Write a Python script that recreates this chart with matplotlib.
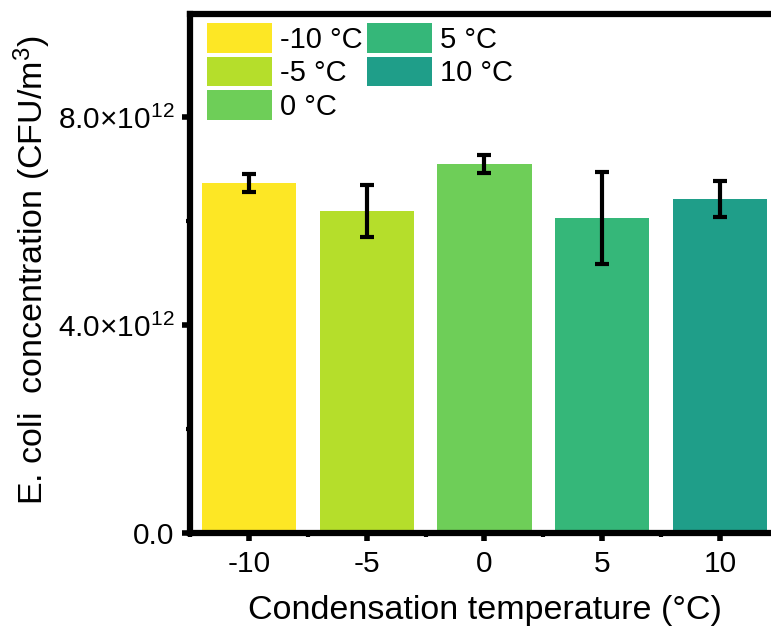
import numpy as np
import matplotlib
matplotlib.use("Agg")
import matplotlib.pyplot as plt
from matplotlib.ticker import FixedLocator

# Data
temps = [-10, -5, 0, 5, 10]
conc = [6.74e12, 6.20e12, 7.11e12, 6.07e12, 6.43e12]
err = [0.18e12, 0.50e12, 0.17e12, 0.89e12, 0.34e12]
labels = ["-10 °C", "-5 °C", "0 °C", "5 °C", "10 °C"]
colors = ["#fde725", "#b5de2b", "#6ece58", "#35b779", "#1f9e89"]
yticks = [0, 4e12, 8e12]
yticklabels = ["0.0", "4.0×10$^{12}$", "8.0×10$^{12}$"]

plt.rcParams["font.family"] = ["Liberation Sans", "DejaVu Sans"]
plt.rcParams["mathtext.fontset"] = "custom"
plt.rcParams["mathtext.rm"] = "Liberation Sans"
plt.rcParams["mathtext.it"] = "Liberation Sans:italic"

fig = plt.figure(figsize=(7.71, 6.28), dpi=100)
ax = fig.add_axes([0.2464, 0.1505, 0.7640, 0.828])

for t, c, e, col, lab in zip(temps, conc, err, colors, labels):
    ax.bar(t, c, width=4, color=col, label=lab, zorder=2)
    ax.errorbar(t, c, yerr=e, fmt="none", ecolor="black", elinewidth=3,
                capsize=5, capthick=3, zorder=3)

ax.set_xlim(-12.5, 12.5)
ax.set_ylim(0, 10e12)

# ticks
ax.set_xticks(temps)
ax.set_xticklabels([str(t) for t in temps])
ax.xaxis.set_minor_locator(FixedLocator(np.arange(-12.5, 13, 5)))
ax.set_yticks(yticks)
ax.set_yticklabels(yticklabels)
ax.yaxis.set_minor_locator(FixedLocator([2e12, 6e12]))
ax.tick_params(which="major", direction="out", length=6, width=4,
               labelsize=21.5, pad=5)
ax.tick_params(axis="x", which="major", pad=6)
ax.tick_params(which="minor", direction="out", length=3, width=3)

for s in ax.spines.values():
    s.set_linewidth(4.5)

ax.set_xlabel("Condensation temperature (°C)", fontsize=24.5, labelpad=12)
ax.set_ylabel("E. coli  concentration (CFU/m$^3$)", fontsize=24.5)
ax.yaxis.set_label_coords(-0.232, 0.507)

ax.legend(loc="upper left", bbox_to_anchor=(0.029, 0.982), ncol=2,
          frameon=False, fontsize=21, handlelength=2.23, handleheight=1.2,
          handletextpad=0.28, labelspacing=0.1, columnspacing=0.15,
          borderpad=0, borderaxespad=0)

fig.savefig("out.png", dpi=100)
